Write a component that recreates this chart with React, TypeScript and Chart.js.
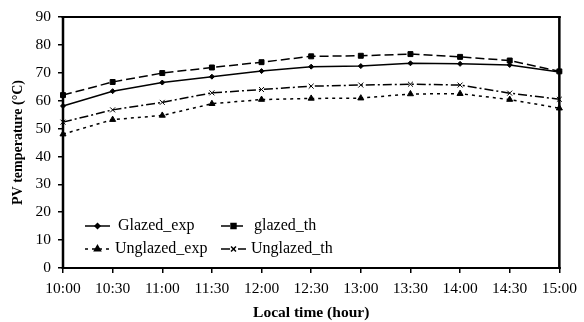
import React, { useEffect, useRef } from "react";
import { Chart, registerables } from "chart.js";
import { drawPoint } from "chart.js/helpers";

Chart.register(...registerables);

const categories = ["10:00", "10:30", "11:00", "11:30", "12:00", "12:30", "13:00", "13:30", "14:00", "14:30", "15:00"];
const glazedExp = [58.1, 63.4, 66.5, 68.6, 70.6, 72.2, 72.4, 73.4, 73.2, 72.8, 70.3];
const glazedTh = [62, 66.7, 69.9, 71.9, 73.8, 75.9, 76.1, 76.7, 75.7, 74.4, 70.5];
const unglazedExp = [48, 53.2, 54.7, 58.9, 60.4, 60.8, 60.9, 62.4, 62.5, 60.4, 57.3];
const unglazedTh = [52.3, 56.7, 59.4, 62.8, 64, 65.2, 65.6, 65.9, 65.6, 62.7, 60.5];
const seriesNames = ["Glazed_exp", "glazed_th", "Unglazed_exp", "Unglazed_th"];

const FONT = '"Liberation Serif", "Times New Roman", serif';

const framePlugin = {
  id: "frame",
  beforeDatasetsDraw(chart: any) {
    const { ctx, chartArea: a } = chart;
    ctx.save();
    ctx.strokeStyle = "#000";
    ctx.lineWidth = 2;
    ctx.beginPath();
    ctx.moveTo(a.left - 1.5, a.top);
    ctx.lineTo(a.right + 1.5, a.top);
    ctx.moveTo(a.left - 1.5, a.bottom);
    ctx.lineTo(a.right + 1.5, a.bottom);
    ctx.stroke();
    ctx.lineWidth = 2.5;
    ctx.beginPath();
    ctx.moveTo(a.left, a.top);
    ctx.lineTo(a.left, a.bottom);
    ctx.moveTo(a.right, a.top);
    ctx.lineTo(a.right, a.bottom);
    ctx.stroke();
    ctx.restore();
  },
};

const legendPlugin = {
  id: "customLegend",
  afterDraw(chart: any) {
    const { ctx, chartArea: a } = chart;
    const items = chart.data.datasets.map((d: any) => d);
    const cols = [a.left + 22, a.left + 158];
    const rows = [a.bottom - 42, a.bottom - 19];
    const textGap = [8, 5];
    ctx.save();
    items.forEach((ds: any, i: number) => {
      const col = i % 2;
      const row = Math.floor(i / 2);
      const x0 = cols[col];
      const y = rows[row];
      ctx.strokeStyle = "#000";
      ctx.lineWidth = ds.borderWidth;
      ctx.setLineDash(ds.borderDash || []);
      ctx.beginPath();
      ctx.moveTo(x0, y);
      ctx.lineTo(x0 + 25, y);
      ctx.stroke();
      ctx.setLineDash([]);
      ctx.fillStyle = "#000";
      drawPoint(ctx, {
        pointStyle: ds.pointStyle,
        radius: ds.pointRadius,
        rotation: 0,
        borderWidth: 1,
      } as any, x0 + 12.5, y);
      ctx.font = `16px ${FONT}`;
      ctx.textBaseline = "middle";
      ctx.textAlign = "left";
      ctx.fillText(ds.label, x0 + 25 + textGap[row], y);
    });
    ctx.restore();
  },
};

export default function App() {
  const ref = useRef<HTMLCanvasElement>(null);
  useEffect(() => {
    if (!ref.current) return;
    const common = {
      borderColor: "#000",
      backgroundColor: "#000",
      pointBorderColor: "#000",
      pointBackgroundColor: "#000",
      borderWidth: 1.5,
      pointBorderWidth: 1,
      tension: 0,
      fill: false,
    };
    const chart = new Chart(ref.current, {
      type: "line",
      data: {
        labels: categories,
        datasets: [
          { ...common, label: seriesNames[0], data: glazedExp, pointStyle: "rectRot", pointRadius: 2.5, borderDash: [] },
          { ...common, label: seriesNames[1], data: glazedTh, pointStyle: "rect", pointRadius: 3.5, borderDash: [9, 4] },
          { ...common, label: seriesNames[2], data: unglazedExp, pointStyle: "triangle", pointRadius: 3.5, borderDash: [3, 4] },
          { ...common, label: seriesNames[3], data: unglazedTh, pointStyle: "crossRot", pointRadius: 3.5, borderDash: [9, 3, 2, 3] },
        ],
      },
      options: {
        responsive: false,
        animation: false,
        layout: { padding: { left: 0, right: 18, top: 17, bottom: 0 } },
        plugins: {
          legend: { display: false },
          tooltip: { enabled: false },
        },
        scales: {
          x: {
            type: "category",
            offset: false,
            border: { display: false },
            grid: {
              display: true,
              drawOnChartArea: false,
              drawTicks: true,
              tickLength: 5,
              color: "#000",
              lineWidth: 1.5,
              offset: false,
            },
            ticks: {
              color: "#000",
              font: { family: FONT, size: 15.5 },
              padding: 7,
              maxRotation: 0,
              autoSkip: false,
            },
            title: {
              display: true,
              text: "Local time (hour)",
              color: "#000",
              font: { family: FONT, size: 15.5, weight: "bold" },
              padding: { top: 0, bottom: 0 },
            },
            afterFit(scale: any) {
              scale.height = 54;
            },
          },
          y: {
            min: 0,
            max: 90,
            border: { display: false },
            grid: {
              display: true,
              drawOnChartArea: false,
              drawTicks: true,
              tickLength: 5,
              color: "#000",
              lineWidth: 1.5,
            },
            ticks: {
              stepSize: 10,
              color: "#000",
              font: { family: FONT, size: 15.5 },
              padding: 7,
            },
            title: {
              display: true,
              text: "PV temperature (°C)",
              color: "#000",
              font: { family: FONT, size: 14, weight: "bold" },
              padding: { top: 10, bottom: 0 },
            },
            afterFit(scale: any) {
              scale.width = 63;
            },
          },
        },
      },
      plugins: [framePlugin, legendPlugin],
    } as any);
    return () => chart.destroy();
  }, []);
  return (
    <div style={{ position: "absolute", left: 0, top: 0, width: 584, height: 322, background: "#fff" }}>
      <canvas ref={ref} width={584} height={322} style={{ display: "block" }} />
    </div>
  );
}
